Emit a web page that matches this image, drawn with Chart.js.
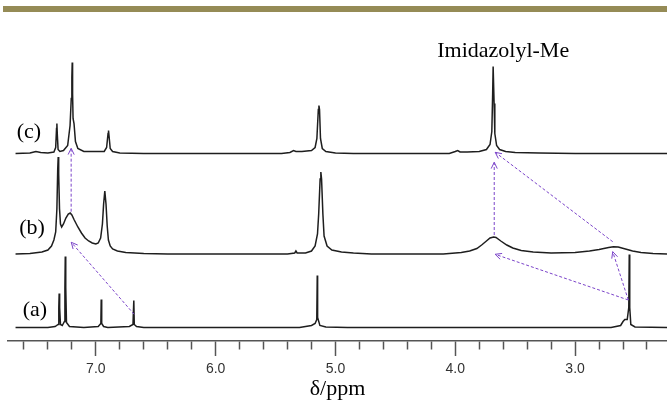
<!DOCTYPE html>
<html>
<head>
<meta charset="utf-8">
<script src="https://cdn.jsdelivr.net/npm/chart.js@4.4.1/dist/chart.umd.min.js"></script>
<style>
body { margin: 0; background: #fff; }
#wrap { position: relative; width: 667px; height: 403px; }
#bar { position: absolute; left: 3px; right: 0; top: 6px; height: 6px; background: #958b56; }
canvas { position: absolute; left: 0; top: 0; }
</style>
</head>
<body>
<div id="wrap">
  <canvas id="nmr" width="667" height="403"></canvas>
  <div id="bar"></div>
</div>
<script>
// shift range shown (ppm), axis runs right to left
const xMin = 2.233;
const xMax = 7.733;

// [ppm, intensity above own baseline]
const specA = [
    [7.67,0],[7.40,0],[7.34,1],[7.315,3],[7.309,20],[7.306,34],[7.302,20],[7.295,3],[7.28,2],
    [7.262,6],[7.258,40],[7.255,71],[7.251,40],[7.245,5],[7.22,1],[7.1,0],
    [6.98,1],[6.958,4],[6.955,28],[6.951,4],[6.935,1],[6.90,0],
    [6.72,1],[6.69,3],[6.683,27],[6.679,3],[6.66,1],[6.60,0],
    [5.30,0],[5.20,2],[5.17,4],[5.156,8],[5.152,52],[5.149,10],[5.13,2],[5.08,0.5],[4.9,0],
    [2.70,0],[2.62,2],[2.60,6],[2.585,8],[2.565,8],[2.552,20],[2.548,73],[2.544,20],[2.535,3],[2.50,0.5],[2.233,0]
];

const specB = [
    [7.67,0],[7.55,0.5],[7.45,2],[7.40,4],[7.37,8],[7.35,14],[7.335,22],[7.325,45],[7.318,85],[7.314,97],
    [7.310,80],[7.303,45],[7.295,30],[7.285,27],[7.27,30],[7.25,36],[7.23,40],[7.214,41],[7.20,39],
    [7.18,34],[7.15,27],[7.12,21],[7.09,16],[7.06,13],[7.03,11],[7.0,10],[6.98,11],[6.96,16],
    [6.945,30],[6.935,50],[6.925,63],[6.915,50],[6.905,28],[6.895,14],[6.88,8],[6.86,5],[6.82,3],
    [6.75,1.5],[6.6,0.5],[6.4,0],
    [5.4,0],[5.34,1],[5.33,3],[5.32,1],[5.25,1],[5.20,3],[5.17,8],[5.15,20],[5.14,40],[5.128,75],
    [5.122,82],[5.116,75],[5.105,40],[5.095,18],[5.07,8],[5.03,4],[4.95,2],[4.85,1],[4.7,0],
    [4.10,0],[3.95,1.5],[3.88,3],[3.82,5.5],[3.78,9],[3.74,13],[3.71,16],[3.68,17],[3.66,16.5],
    [3.62,13],[3.57,9],[3.52,6],[3.45,3.5],[3.35,2],[3.2,1],[3.0,1.5],[2.88,3],[2.80,4.5],[2.72,6.5],
    [2.68,7.3],[2.64,7],[2.58,5],[2.52,3],[2.45,1.5],[2.35,0.5],[2.233,0]
];

const specC = [
    [7.67,0],[7.55,0.5],[7.5,2],[7.46,1],[7.40,0.5],[7.35,1.5],[7.335,6],[7.328,25],[7.325,30],
    [7.321,18],[7.315,4],[7.30,2],[7.27,3],[7.235,8],[7.215,28],[7.205,55],[7.200,76],[7.197,91],
    [7.194,60],[7.19,35],[7.182,30],[7.17,12],[7.15,5],[7.10,2],[6.93,2],[6.91,6],[6.898,20],
    [6.894,23],[6.89,18],[6.88,5],[6.86,2],[6.80,0.5],[6.6,0],
    [5.45,0],[5.38,1],[5.35,3],[5.33,2],[5.28,2],[5.2,3],[5.17,6],[5.155,15],[5.143,44],[5.138,48],
    [5.133,44],[5.125,15],[5.11,5],[5.08,2],[5.0,0.5],[4.85,0],
    [4.05,0],[4.0,2],[3.98,3],[3.96,1.5],[3.90,1.5],[3.80,2],[3.74,4],[3.71,9],[3.695,22],[3.688,60],
    [3.684,87],[3.680,87],[3.676,50],[3.670,20],[3.655,8],[3.63,4],[3.58,2],[3.5,1],[3.3,0.5],[3.0,0],[2.233,0]
];

// stacking offsets of the three traces
const baseA = 13.5;
const baseB = 87;
const baseC = 187.5;

// arrows: [fromPpm, fromY, toPpm, toY]
const arrows = [
    [6.68, 26.7, 7.205, 98.7],
    [7.206, 129.3, 7.206, 192.7],
    [3.675, 106, 3.675, 178.7],
    [2.686, 99.3, 3.667, 188.7],
    [2.556, 41, 3.667, 86.7],
    [2.556, 41, 2.686, 89.3]
];

// text labels: [text, ppm, y]
const labels = [
    ['(c)', 7.558, 209],
    ['(b)', 7.533, 113],
    ['(a)', 7.508, 31]
];
const peakLabel = ['Imidazolyl-Me', 3.6, 284];

const lineColor = '#1e1e1e';
const arrowColor = '#7b44c9';

function toPoints(spec, base) {
    return spec.map(p => ({ x: p[0], y: p[1] + base }));
}

function isMajor(v) {
    return Math.abs(v - Math.round(v)) < 1e-6;
}

const notes = {
    id: 'notes',
    afterDatasetsDraw(chart) {
        const ctx = chart.ctx;
        const x = chart.scales.x;
        const y = chart.scales.y;
        ctx.save();
        ctx.strokeStyle = arrowColor;
        ctx.lineWidth = 1;
        arrows.forEach(a => {
            const x1 = x.getPixelForValue(a[0]), y1 = y.getPixelForValue(a[1]);
            const x2 = x.getPixelForValue(a[2]), y2 = y.getPixelForValue(a[3]);
            ctx.setLineDash([3, 2]);
            ctx.beginPath();
            ctx.moveTo(x1, y1);
            ctx.lineTo(x2, y2);
            ctx.stroke();
            const ang = Math.atan2(y2 - y1, x2 - x1);
            ctx.setLineDash([]);
            ctx.beginPath();
            ctx.moveTo(x2 - 7 * Math.cos(ang - 0.45), y2 - 7 * Math.sin(ang - 0.45));
            ctx.lineTo(x2, y2);
            ctx.lineTo(x2 - 7 * Math.cos(ang + 0.45), y2 - 7 * Math.sin(ang + 0.45));
            ctx.stroke();
        });

        ctx.fillStyle = '#000';
        ctx.font = '22px "Liberation Serif", "Times New Roman", serif';
        ctx.textAlign = 'center';
        ctx.textBaseline = 'middle';
        labels.forEach(l => {
            ctx.fillText(l[0], x.getPixelForValue(l[1]), y.getPixelForValue(l[2]));
        });
        ctx.textBaseline = 'alphabetic';
        ctx.fillText(peakLabel[0], x.getPixelForValue(peakLabel[1]), y.getPixelForValue(peakLabel[2]));
        ctx.restore();
    }
};

const ds = (spec, base) => ({
    data: toPoints(spec, base),
    borderColor: lineColor,
    borderWidth: 1.5,
    pointRadius: 0,
    tension: 0,
    fill: false
});

new Chart(document.getElementById('nmr'), {
    type: 'line',
    data: {
        datasets: [ds(specA, baseA), ds(specB, baseB), ds(specC, baseC)]
    },
    options: {
        responsive: false,
        animation: false,
        layout: { padding: { left: 8, right: 0, top: 20, bottom: 0 } },
        plugins: { legend: { display: false }, tooltip: { enabled: false } },
        scales: {
            x: {
                type: 'linear',
                reverse: true,
                min: xMin,
                max: xMax,
                border: { display: true, color: '#555', width: 1.5 },
                grid: {
                    drawOnChartArea: false,
                    drawTicks: true,
                    tickLength: 15,
                    tickColor: '#555',
                    tickWidth: 1.5,
                    tickBorderDash: c => (c.tick && isMajor(c.tick.value)) ? [] : [8, 20]
                },
                ticks: {
                    stepSize: 0.2,
                    autoSkip: false,
                    includeBounds: false,
                    maxRotation: 0,
                    padding: 5,
                    color: '#333',
                    font: { family: '"Liberation Sans", Arial, sans-serif', size: 14 },
                    callback: v => isMajor(v) ? Number(v).toFixed(1) : ''
                },
                title: {
                    display: true,
                    text: 'δ/ppm',
                    color: '#000',
                    font: { family: '"Liberation Serif", "Times New Roman", serif', size: 22, lineHeight: 1 },
                    padding: { top: -4.8, bottom: 3 }
                }
            },
            y: { display: false, min: 0, max: 321 }
        }
    },
    plugins: [notes]
});
</script>
</body>
</html>
